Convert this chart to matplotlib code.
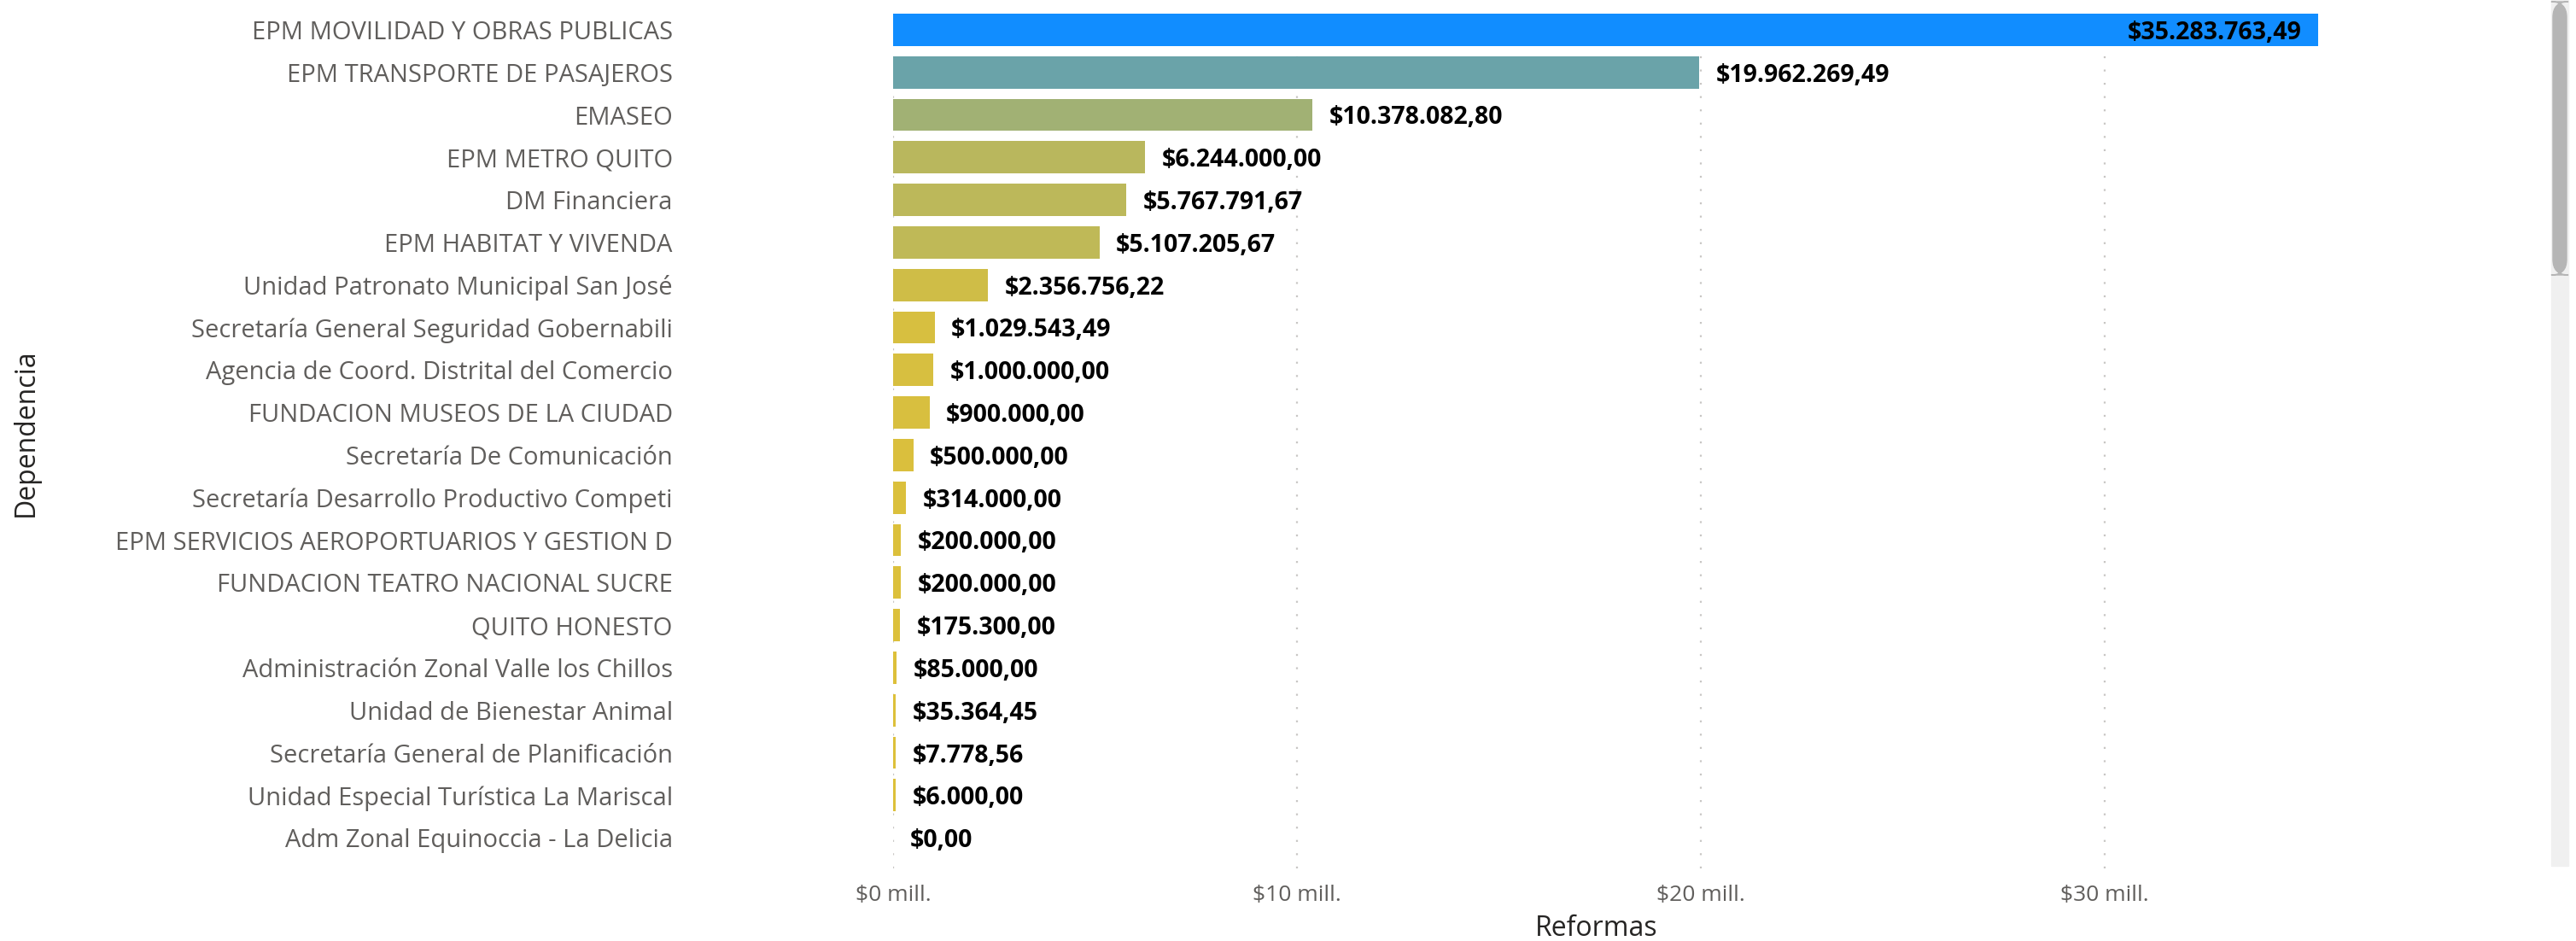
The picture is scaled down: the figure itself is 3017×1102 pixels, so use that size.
import numpy as np
import matplotlib.pyplot as plt
from matplotlib.colors import to_rgb
from matplotlib.patches import FancyBboxPatch, Rectangle

# data
dependencias = [
    'EPM MOVILIDAD Y OBRAS PUBLICAS',
    'EPM TRANSPORTE DE PASAJEROS',
    'EMASEO',
    'EPM METRO QUITO',
    'DM Financiera',
    'EPM HABITAT Y VIVENDA',
    'Unidad Patronato Municipal San José',
    'Secretaría General Seguridad Gobernabili',
    'Agencia de Coord. Distrital del Comercio',
    'FUNDACION MUSEOS DE LA CIUDAD',
    'Secretaría De Comunicación',
    'Secretaría Desarrollo Productivo Competi',
    'EPM SERVICIOS AEROPORTUARIOS Y GESTION D',
    'FUNDACION TEATRO NACIONAL SUCRE',
    'QUITO HONESTO',
    'Administración Zonal Valle los Chillos',
    'Unidad de Bienestar Animal',
    'Secretaría General de Planificación',
    'Unidad Especial Turística La Mariscal',
    'Adm Zonal Equinoccia - La Delicia',
]
reformas = [35283763.49, 19962269.49, 10378082.80, 6244000.00, 5767791.67,
            5107205.67, 2356756.22, 1029543.49, 1000000.00, 900000.00,
            500000.00, 314000.00, 200000.00, 200000.00, 175300.00,
            85000.00, 35364.45, 7778.56, 6000.00, 0.00]
x_ticks = [0, 10e6, 20e6, 30e6]
x_ticklabels = ['$0 mill.', '$10 mill.', '$20 mill.', '$30 mill.']

low_col = np.array(to_rgb('#DDC03A'))
high_col = np.array(to_rgb('#118DFF'))


def fmt(v):
    s = f'{v:,.2f}'
    s = s.replace(',', 'X').replace('.', ',').replace('X', '.')
    return '$' + s


vals = np.array(reformas)
frac = vals / vals.max()
colors = [tuple(low_col + f * (high_col - low_col)) for f in frac]

W, H = 3017, 1102
fig = plt.figure(figsize=(W / 100, H / 100), dpi=100)
ax = fig.add_axes([1046 / W, 85 / H, (2938 - 1046) / W, (1092 - 85) / H])

xmax = 40e6
min_w = xmax * 3 / 1892  # Power BI draws tiny bars a few pixels wide
draw_w = np.where(vals > 0, np.maximum(vals, min_w), 0)

y = np.arange(len(dependencias))
ax.barh(y, draw_w, height=0.76, color=colors, zorder=2)

for i, (v, w) in enumerate(zip(vals, draw_w)):
    if i == 0:
        ax.annotate(fmt(v), (w, i), xytext=(-14, -2.5), textcoords='offset points',
                    ha='right', va='center', fontsize=20.5, fontweight='bold',
                    family='Open Sans', color='black', zorder=3)
    else:
        ax.annotate(fmt(v), (w, i), xytext=(14, -2.5), textcoords='offset points',
                    ha='left', va='center', fontsize=20.5, fontweight='bold',
                    family='Open Sans', color='black', zorder=3)

ax.set_xlim(0, xmax)
ax.set_ylim(len(dependencias) - 0.28, -0.5)
ax.set_xticks(x_ticks)
ax.set_xticklabels(x_ticklabels)
ax.set_yticks(y)
ax.set_yticklabels(dependencias)

ax.tick_params(axis='y', length=0, pad=186, labelsize=21, labelcolor='#605E5C')
ax.tick_params(axis='x', length=0, pad=14, labelsize=19, labelcolor='#605E5C')
for lab in ax.get_yticklabels() + ax.get_xticklabels():
    lab.set_family('Open Sans')

ax.grid(axis='x', color='#C8C6C4', linestyle=(0, (1, 6)), linewidth=1.6, zorder=0)
for s in ax.spines.values():
    s.set_visible(False)

fig.text(1870 / W, 1 - 1087 / H, 'Reformas', ha='center', va='center',
         fontsize=23, color='#252423', family='Open Sans')
fig.text(30 / W, 1 - 507 / H, 'Dependencia', ha='center', va='center',
         rotation=90, fontsize=23, color='#252423', family='Open Sans')

# scrollbar
fig.patches.append(Rectangle((2988 / W, 1 - 1014 / H), 20 / W, 1014 / H,
                             transform=fig.transFigure, color='#F0F0F0', zorder=0))
fig.patches.append(FancyBboxPatch((2990 / W, 1 - 322 / H), 16 / W, 320 / H,
                                  boxstyle='round,pad=0,rounding_size=0.006',
                                  transform=fig.transFigure, color='#B5B5B5',
                                  mutation_aspect=W / H, zorder=1))

fig.savefig('out.png', dpi=100)
